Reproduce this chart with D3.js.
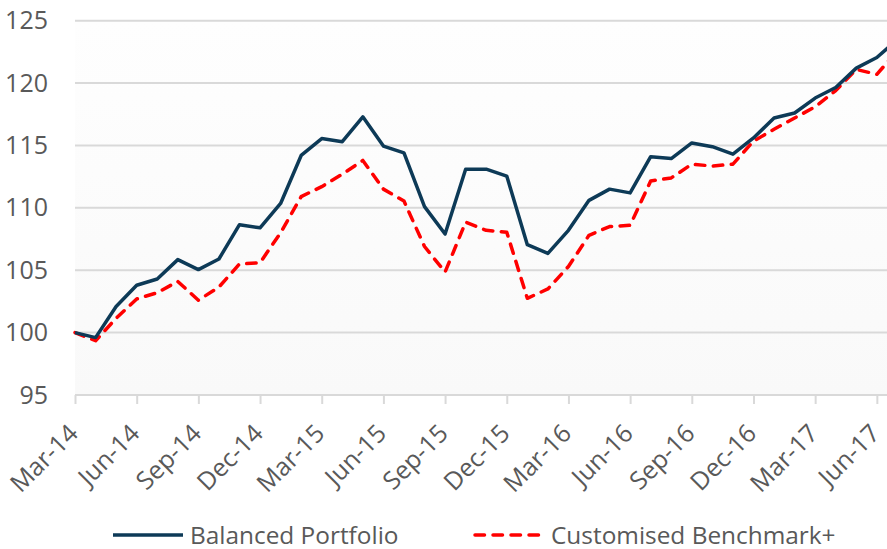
<!DOCTYPE html>
<html>
<head>
<meta charset="utf-8">
<script src="https://cdn.jsdelivr.net/npm/d3@7"></script>
<style>
    body { margin: 0; background: #fff; }
    text { font-family: "Open Sans", sans-serif; fill: #595959; }
</style>
</head>
<body>
<div id="chart"></div>
<script>
// month labels (monthly data, Mar-14 .. Jul-17)
const months = [
    'Mar-14', 'Apr-14', 'May-14', 'Jun-14', 'Jul-14', 'Aug-14', 'Sep-14', 'Oct-14', 'Nov-14', 'Dec-14',
    'Jan-15', 'Feb-15', 'Mar-15', 'Apr-15', 'May-15', 'Jun-15', 'Jul-15', 'Aug-15', 'Sep-15', 'Oct-15',
    'Nov-15', 'Dec-15', 'Jan-16', 'Feb-16', 'Mar-16', 'Apr-16', 'May-16', 'Jun-16', 'Jul-16', 'Aug-16',
    'Sep-16', 'Oct-16', 'Nov-16', 'Dec-16', 'Jan-17', 'Feb-17', 'Mar-17', 'Apr-17', 'May-17', 'Jun-17',
    'Jul-17'
];

const balancedPortfolio = [
    100.0, 99.6, 102.1, 103.8, 104.3, 105.85, 105.05, 105.9, 108.65, 108.4,
    110.35, 114.2, 115.55, 115.3, 117.3, 114.95, 114.4, 110.1, 107.9, 113.1,
    113.1, 112.55, 107.05, 106.35, 108.2, 110.6, 111.5, 111.2, 114.1, 113.95,
    115.2, 114.9, 114.3, 115.6, 117.2, 117.6, 118.8, 119.65, 121.2, 122.05,
    123.5
];

const customisedBenchmark = [
    100.0, 99.35, 101.15, 102.7, 103.2, 104.1, 102.6, 103.65, 105.5, 105.6,
    108.0, 110.9, 111.7, 112.7, 113.8, 111.5, 110.55, 106.9, 104.85, 108.85,
    108.2, 108.05, 102.75, 103.5, 105.3, 107.8, 108.5, 108.6, 112.15, 112.4,
    113.5, 113.35, 113.5, 115.35, 116.3, 117.2, 118.1, 119.4, 121.1, 120.7,
    122.6
];

const yTicks = [95, 100, 105, 110, 115, 120, 125];
const xTickLabels = months.filter((d, i) => i % 3 === 0);

const seriesNames = ['Balanced Portfolio', 'Customised Benchmark+'];

const totalWidth = 887,
    totalHeight = 549;

const margin = { top: 20.7, left: 75, bottom: 154 };
const monthStep = 20.56;
const plotHeight = totalHeight - margin.top - margin.bottom;

const svg = d3.select('#chart').append('svg')
    .attr('width', totalWidth)
    .attr('height', totalHeight);

const x = d3.scalePoint()
    .domain(months)
    .range([margin.left, margin.left + monthStep * (months.length - 1)]);

const y = d3.scaleLinear()
    .domain([95, 125])
    .range([margin.top + plotHeight, margin.top]);

// light plot background
const defs = svg.append('defs');
const grad = defs.append('linearGradient')
    .attr('id', 'plotBg')
    .attr('x1', 0).attr('y1', 0).attr('x2', 0).attr('y2', 1);
grad.append('stop').attr('offset', '0%').attr('stop-color', '#fefefe');
grad.append('stop').attr('offset', '100%').attr('stop-color', '#f9f9f9');

svg.append('rect')
    .attr('x', margin.left)
    .attr('y', y(125))
    .attr('width', totalWidth - margin.left)
    .attr('height', y(95) - y(125))
    .attr('fill', 'url(#plotBg)');

// gridlines
svg.append('g')
    .selectAll('line')
    .data(yTicks.filter(d => d > 95))
    .enter()
    .append('line')
    .attr('x1', margin.left)
    .attr('x2', totalWidth)
    .attr('y1', d => y(d))
    .attr('y2', d => y(d))
    .attr('stroke', '#d9d9d9')
    .attr('stroke-width', 2);

// y axis labels
const yAxis = svg.append('g')
    .attr('transform', 'translate(' + margin.left + ',0)')
    .call(d3.axisLeft(y).tickValues(yTicks).tickSize(0).tickPadding(27));
yAxis.select('.domain').remove();
yAxis.selectAll('text')
    .style('font-size', '25px')
    .style('fill', '#595959')
    .style('font-family', '"Open Sans", sans-serif');

// x axis
const xAxis = svg.append('g')
    .attr('transform', 'translate(0,' + y(95) + ')')
    .call(d3.axisBottom(x).tickValues(xTickLabels).tickSize(9).tickSizeOuter(0));
xAxis.select('.domain')
    .attr('stroke', '#d9d9d9')
    .attr('stroke-width', 2)
    .attr('d', 'M' + margin.left + ',0H' + totalWidth);
xAxis.selectAll('.tick line')
    .attr('stroke', '#d9d9d9')
    .attr('stroke-width', 2);
xAxis.selectAll('text')
    .style('font-size', '25px')
    .style('fill', '#595959')
    .style('font-family', '"Open Sans", sans-serif')
    .style('text-anchor', 'end')
    .attr('dy', 0)
    .attr('y', 0)
    .attr('transform', 'translate(4,40) rotate(-45)');

// lines
const line = d3.line()
    .x((d, i) => x(months[i]))
    .y(d => y(d));

svg.append('path')
    .datum(customisedBenchmark)
    .attr('fill', 'none')
    .attr('stroke', '#ff0000')
    .attr('stroke-width', 3.5)
    .attr('stroke-dasharray', '9.5,8.5')
    .attr('stroke-linecap', 'round')
    .attr('stroke-linejoin', 'round')
    .attr('d', line);

svg.append('path')
    .datum(balancedPortfolio)
    .attr('fill', 'none')
    .attr('stroke', '#0d3a57')
    .attr('stroke-width', 3.5)
    .attr('stroke-linejoin', 'round')
    .attr('d', line);

// legend
const legend = svg.append('g');

legend.append('line')
    .attr('x1', 113).attr('x2', 183)
    .attr('y1', 535).attr('y2', 535)
    .attr('stroke', '#0d3a57')
    .attr('stroke-width', 3.5);
legend.append('text')
    .attr('x', 190)
    .attr('y', 543.5)
    .style('font-size', '24.4px')
    .text(seriesNames[0]);

legend.append('line')
    .attr('x1', 475).attr('x2', 545)
    .attr('y1', 535).attr('y2', 535)
    .attr('stroke', '#ff0000')
    .attr('stroke-width', 3.5)
    .attr('stroke-dasharray', '9.5,8.5')
    .attr('stroke-linecap', 'round');
legend.append('text')
    .attr('x', 551)
    .attr('y', 543.5)
    .style('font-size', '24.4px')
    .text(seriesNames[1]);
</script>
</body>
</html>
